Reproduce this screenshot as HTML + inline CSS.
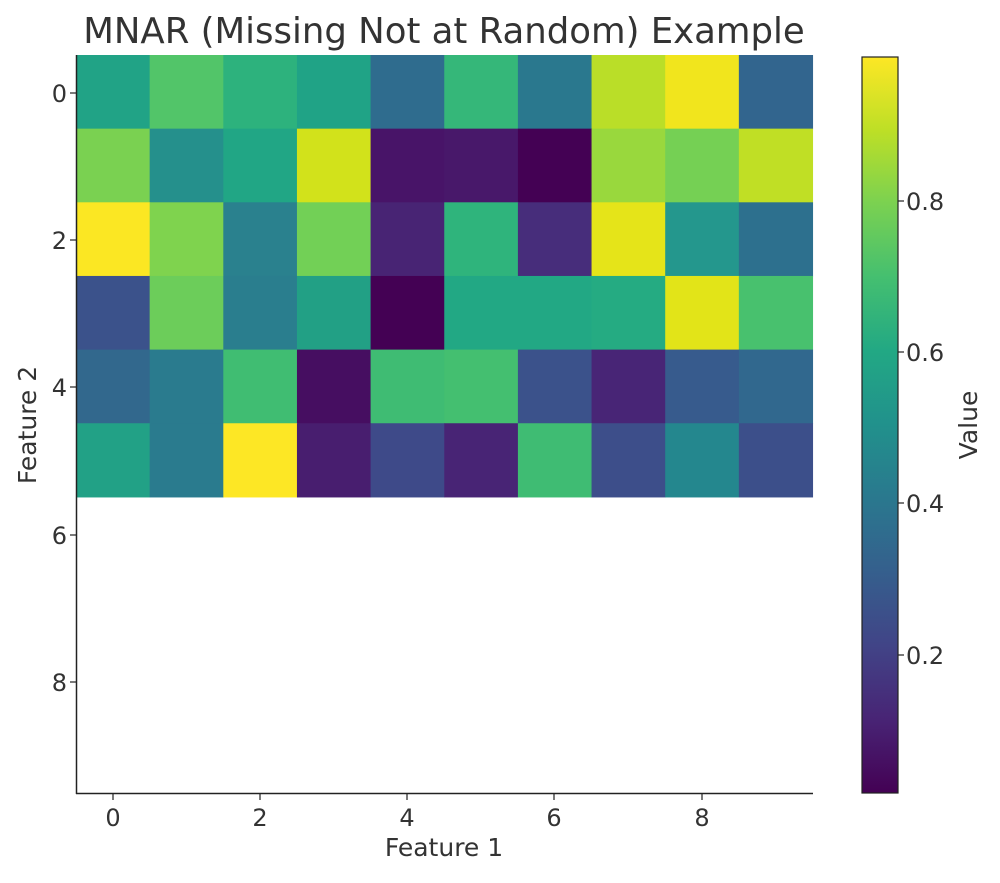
<!DOCTYPE html>
<html><head><meta charset="utf-8"><style>
body{margin:0;background:#fff;width:1000px;height:878px;overflow:hidden;font-family:"Liberation Sans","DejaVu Sans",sans-serif;}
</style></head><body>
<svg width="1000" height="878" xmlns="http://www.w3.org/2000/svg" font-family="DejaVu Sans, Liberation Sans, sans-serif" fill="#333">
<defs>
<linearGradient id="vir" x1="0" y1="1" x2="0" y2="0">
<stop offset="0" stop-color="#440154"/><stop offset="0.1" stop-color="#482475"/><stop offset="0.2" stop-color="#414487"/><stop offset="0.3" stop-color="#355f8d"/><stop offset="0.4" stop-color="#2a788e"/><stop offset="0.5" stop-color="#21918c"/><stop offset="0.6" stop-color="#22a884"/><stop offset="0.7" stop-color="#44bf70"/><stop offset="0.8" stop-color="#7ad151"/><stop offset="0.9" stop-color="#bddf26"/><stop offset="1" stop-color="#fde725"/>
</linearGradient>
</defs>
<text x="444" y="43" font-size="35.5" text-anchor="middle">MNAR (Missing Not at Random) Example</text>
<g id="cells"></g>
<line x1="76.5" y1="55" x2="76.5" y2="794" stroke="#222" stroke-width="1.5"/>
<line x1="76" y1="793.5" x2="813" y2="793.5" stroke="#222" stroke-width="1.5"/>
<g stroke="#222" stroke-width="1.2">
<line x1="70" y1="93" x2="76" y2="93"/><line x1="70" y1="240" x2="76" y2="240"/><line x1="70" y1="387" x2="76" y2="387"/><line x1="70" y1="535" x2="76" y2="535"/><line x1="70" y1="682" x2="76" y2="682"/>
<line x1="113" y1="794" x2="113" y2="800"/><line x1="260" y1="794" x2="260" y2="800"/><line x1="407" y1="794" x2="407" y2="800"/><line x1="554" y1="794" x2="554" y2="800"/><line x1="702" y1="794" x2="702" y2="800"/>
</g>
<g font-size="24" text-anchor="end">
<text x="67" y="102">0</text><text x="67" y="249">2</text><text x="67" y="396">4</text><text x="67" y="544">6</text><text x="67" y="691">8</text>
</g>
<g font-size="24" text-anchor="middle">
<text x="113" y="826">0</text><text x="260" y="826">2</text><text x="407" y="826">4</text><text x="554" y="826">6</text><text x="702" y="826">8</text>
</g>
<text x="444" y="856" font-size="25" text-anchor="middle">Feature 1</text>
<text transform="translate(36,425) rotate(-90)" font-size="25" text-anchor="middle">Feature 2</text>
<rect x="862" y="57" width="36" height="736" fill="url(#vir)" stroke="#222" stroke-width="1.2"/>
<g stroke="#222" stroke-width="1.2">
<line x1="898" y1="201" x2="904" y2="201"/><line x1="898" y1="352" x2="904" y2="352"/><line x1="898" y1="503" x2="904" y2="503"/><line x1="898" y1="655" x2="904" y2="655"/>
</g>
<g font-size="24">
<text x="906" y="210">0.8</text><text x="906" y="361">0.6</text><text x="906" y="512">0.4</text><text x="906" y="664">0.2</text>
</g>
<text transform="translate(977,425) rotate(-90)" font-size="25" text-anchor="middle">Value</text>
</svg>
<script>
var c=[
["#21a386","#52c569","#2db27d","#20a386","#2f6c8e","#35b779","#2a788e","#bade28","#f1e51d","#32658e"],
["#7ad151","#25908c","#21a685","#d2e21b","#481468","#48186a","#440154","#99d83d","#75d054","#c0df25"],
["#fbe723","#7fd34e","#2a818e","#72d056","#482474","#2fb47c","#472d7b","#e5e419","#24978d","#2d708e"],
["#3b528b","#6ccd5a","#2a7e8e","#22a085","#440154","#22a884","#22a884","#25ab82","#e2e418","#48c16e"],
["#32688d","#2a7b8e","#40bd72","#460e61","#3fbc73","#44bf70","#3b528b","#482576","#375b8d","#31688e"],
["#22a186","#2a7b8e","#fde725","#481e6f","#3e4a89","#482475","#3fbc73","#3d4e8a","#24878e","#3c4f8a"]];
var g=document.getElementById('cells'),s='';
for(var r=0;r<6;r++)for(var k=0;k<10;k++){var x=76+k*73.65,y=55+r*73.65;
s+='<rect x="'+x+'" y="'+y+'" width="74.2" height="74.2" fill="'+c[r][k]+'"/>';}
g.innerHTML=s;
</script>
</body></html>
